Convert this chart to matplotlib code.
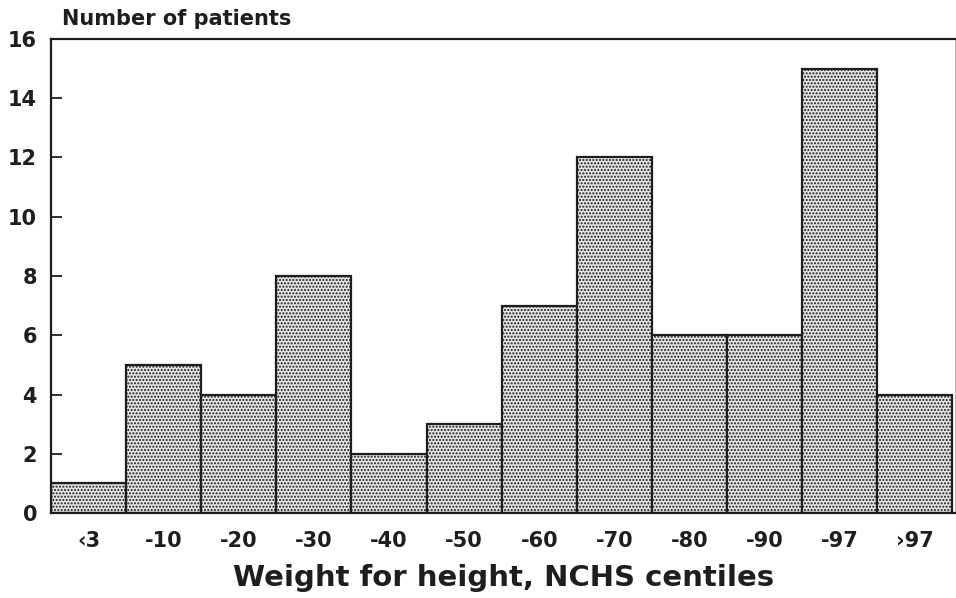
import matplotlib
matplotlib.use("Agg")
import matplotlib.pyplot as plt
import numpy as np

categories = ["\u20393", "-10", "-20", "-30", "-40", "-50", "-60", "-70", "-80", "-90", "-97", "\u203a97"]
patients = [1, 5, 4, 8, 2, 3, 7, 12, 6, 6, 15, 4]
y_ticks = [0, 2, 4, 6, 8, 10, 12, 14, 16]

plt.rcParams['font.family'] = ['DejaVu Sans']
plt.rcParams['hatch.color'] = '#999999'
plt.rcParams['hatch.linewidth'] = 1.0

fig = plt.figure(figsize=(9.56, 5.98), dpi=100)
ax = fig.add_axes([0.0533, 0.1421, 0.946, 0.7927])
ink = '#1e1e1e'

x = np.arange(len(categories))
ax.bar(x, patients, width=1.0, facecolor='#e4e4e4', edgecolor=ink,
       linewidth=1.6, hatch='.....', zorder=2)

ax.set_xlim(-0.5, len(categories) - 0.5 + 0.04)
ax.set_ylim(0, 16)
ax.set_xticks(x)
ax.set_xticklabels(categories)
ax.set_yticks(y_ticks)
ax.tick_params(axis='x', direction='in', length=9, width=1.3, color=ink,
               labelsize=15, labelcolor=ink, pad=13)
ax.tick_params(axis='y', direction='in', length=8, width=1.3, color=ink,
               labelsize=15, labelcolor=ink, pad=10)
for lbl in ax.get_xticklabels() + ax.get_yticklabels():
    lbl.set_fontweight('bold')

for side in ['left', 'bottom', 'top']:
    ax.spines[side].set_linewidth(1.6)
    ax.spines[side].set_color(ink)
ax.spines['right'].set_linewidth(0.8)
ax.spines['right'].set_color('#bbbbbb')

ax.set_xlabel("Weight for height, NCHS centiles", fontsize=21, fontweight='bold',
              color=ink, labelpad=9)
fig.text(0.065, 0.968, "Number of patients", fontsize=15, fontweight='bold',
         color=ink, ha='left', va='center')

fig.savefig("out.png", dpi=100)
